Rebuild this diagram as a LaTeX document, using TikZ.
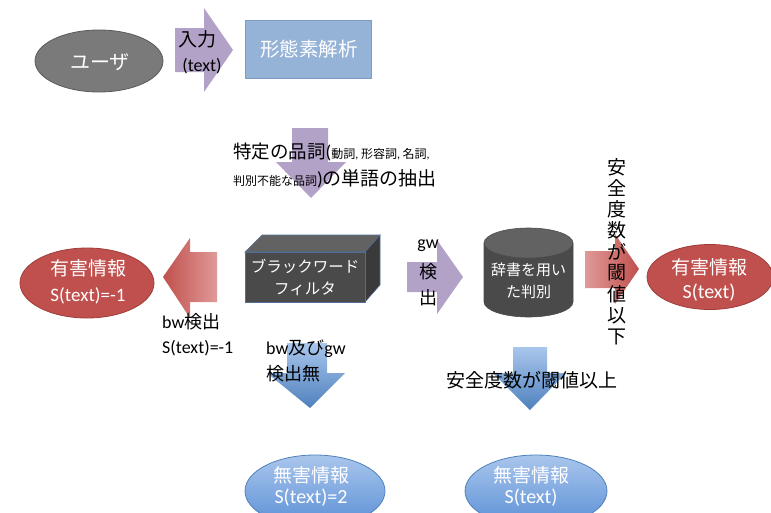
\documentclass[tikz,border=0pt]{standalone}
\usepackage{fontspec}
\setmainfont{Noto Sans CJK JP}
\newfontfamily\lat{Carlito}
\usetikzlibrary{shapes.geometric}
\begin{document}
\definecolor{upurple}{HTML}{B3A2C7}
\definecolor{ugray}{HTML}{7A7A7A}
\definecolor{ugrayd}{HTML}{5A5A5A}
\definecolor{ulblue}{HTML}{95B3D7}
\definecolor{ulblued}{HTML}{7C9CC6}
\definecolor{udark}{HTML}{4A4A4A}
\definecolor{udarktop}{HTML}{626262}
\definecolor{udarkside}{HTML}{3A3A3A}
\definecolor{uedge}{HTML}{4F6E9A}
\definecolor{ured}{HTML}{C0504D}
\definecolor{uredd}{HTML}{9E3D3A}
\definecolor{upink}{HTML}{E09A98}
\definecolor{ublue}{HTML}{5B8FD6}
\definecolor{ubluel}{HTML}{A9C6EC}
\definecolor{ubluee}{HTML}{4F81BD}
\begin{tikzpicture}[x=1pt,y=-1pt,
  big/.style={font=\fontsize{19}{21}\selectfont},
  wtext/.style={text=white},
  purparrow/.style={fill=upurple,draw=none},
  redellipse/.style={ellipse,draw=uredd,fill=ured,line width=0.8pt},
  blueellipse/.style={ellipse,draw=ubluee,top color=ubluel,bottom color=ublue,line width=0.8pt},
]
\useasboundingbox (0,0) rectangle (771,512);
% user ellipse
\draw[draw=ugrayd,fill=ugray,line width=0.8pt] (99,61) ellipse [x radius=64, y radius=31];
\node[font=\fontsize{20}{22}\selectfont,wtext] (user) at (100,62) {ユーザ};
% input arrow
\fill[purparrow] (175,28) -- (204,28) -- (204,8) -- (233,50) -- (204,92) -- (204,72) -- (175,72) -- cycle;
\node[big] (nyu) at (197,39) {入力};
\node[font=\lat\fontsize{18}{20}\selectfont] (nyut) at (202,66) {(text)};
% morphological analysis box
\draw[draw=ulblued,fill=ulblue,line width=0.8pt] (245,20) rectangle (371,78);
\node[font=\fontsize{19.5}{21}\selectfont,wtext] (morph) at (309,49) {形態素解析};
% down purple arrow
\fill[purparrow] (292,128) -- (328,128) -- (328,162) -- (346,162) -- (311,198) -- (276,162) -- (292,162) -- cycle;
\node[anchor=west,inner sep=0pt] (ext1) at (233,152) {\fontsize{18.5}{20}\selectfont 特定の品詞{\lat (}\fontsize{12}{13}\selectfont 動詞{\lat , }形容詞{\lat , }名詞{\lat ,}};
\node[anchor=west,inner sep=0pt] (ext2) at (233,179) {\fontsize{12}{13}\selectfont 判別不能な品詞\fontsize{19}{20}\selectfont {\lat )}の単語の抽出};
% black word filter box
\draw[draw=uedge,fill=udarktop,line width=0.6pt] (245,252) -- (262,235) -- (380,235) -- (365,252) -- cycle;
\draw[draw=uedge,fill=udarkside,line width=0.6pt] (365,252) -- (380,235) -- (380,285) -- (365,302) -- cycle;
\draw[draw=uedge,fill=udark,line width=0.6pt] (245,252) rectangle (365,302);
\node[font=\fontsize{15.5}{17}\selectfont,wtext] (bwf1) at (305,266) {ブラックワード};
\node[font=\fontsize{15.5}{17}\selectfont,wtext] (bwf2) at (305,289) {フィルタ};
% left red arrow
\shade[left color=ured,right color=upink] (163,277) -- (190,238) -- (190,252) -- (217,252) -- (217,302) -- (190,302) -- (190,318) -- cycle;
\node[redellipse,minimum width=134pt,minimum height=70pt] (harm1) at (87,283) {};
\node[big,wtext] (harm1a) at (88,268) {有害情報};
\node[font=\lat\fontsize{19}{21}\selectfont,wtext] (harm1b) at (88,296) {S(text)=-1};
\node[font=\fontsize{18}{20}\selectfont,anchor=west,inner sep=0pt] (bw1) at (162,322) {{\lat bw}検出};
\node[font=\lat\fontsize{18}{20}\selectfont,anchor=west,inner sep=0pt] (bw2) at (162,348) {S(text)=-1};
% gw arrow
\fill[purparrow] (407,262) -- (437,262) -- (437,240) -- (463,277) -- (437,314) -- (437,292) -- (407,292) -- cycle;
\node[font=\lat\fontsize{18}{20}\selectfont] (gw1) at (428,246) {gw};
\node[font=\fontsize{18}{20}\selectfont] (gw2) at (428,272) {検};
\node[font=\fontsize{18}{20}\selectfont] (gw3) at (428,298) {出};
% cylinder
\fill[udark] (484,243) -- (484,302) arc[start angle=180,end angle=0,x radius=44.5,y radius=15] -- (573,243) -- cycle;
\draw[draw=black!70,line width=0.6pt] (484,243) -- (484,302) arc[start angle=180,end angle=0,x radius=44.5,y radius=15] -- (573,243);
\draw[draw=black!70,fill=udarktop,line width=0.6pt] (528.5,243) ellipse [x radius=44.5, y radius=15];
\node[font=\fontsize{15}{17}\selectfont,wtext] (dic1) at (528.5,270) {辞書を用い};
\node[font=\fontsize{15}{17}\selectfont,wtext] (dic2) at (528.5,292) {た判別};
% right red arrow
\shade[left color=upink,right color=ured] (585,251) -- (615,251) -- (615,234) -- (639,269) -- (615,304) -- (615,288) -- (585,288) -- cycle;
\foreach \c [count=\i] in {安,全,度,数,が,閾,値,以,下}{
  \node[font=\fontsize{19}{20}\selectfont,inner sep=0pt] (v\i) at (617,{167+21.2*(\i-1)}) {\c};
}
\node[redellipse,minimum width=126pt,minimum height=65pt] (harm2) at (710,277) {};
\node[big,wtext] (harm2a) at (709,267) {有害情報};
\node[font=\lat\fontsize{20}{22}\selectfont,wtext] (harm2b) at (709,293) {S(text)};
% blue arrows
\shade[top color=ubluel,bottom color=ubluee] (287,343) -- (327,343) -- (327,373) -- (345,373) -- (310,408) -- (267,373) -- (287,373) -- cycle;
\node[font=\fontsize{18}{20}\selectfont,anchor=west,inner sep=0pt] (nd1) at (266,349) {{\lat bw}及び{\lat gw}};
\node[font=\fontsize{18}{20}\selectfont,anchor=west,inner sep=0pt] (nd2) at (266,374) {検出無};
\shade[top color=ubluel,bottom color=ubluee] (513,347) -- (547,347) -- (547,373) -- (566,373) -- (530,410) -- (493,373) -- (513,373) -- cycle;
\node[font=\fontsize{19}{20}\selectfont] (safe) at (532,380) {安全度数が閾値以上};
% bottom ellipses
\node[blueellipse,minimum width=140pt,minimum height=72pt] (safe1) at (315,491) {};
\node[big,wtext] (safe1a) at (311,475) {無害情報};
\node[font=\lat\fontsize{20}{22}\selectfont,wtext] (safe1b) at (311,498) {S(text)=2};
\node[blueellipse,minimum width=142pt,minimum height=72pt] (safe2) at (536,491) {};
\node[big,wtext] (safe2a) at (531,475) {無害情報};
\node[font=\lat\fontsize{20}{22}\selectfont,wtext] (safe2b) at (531,498) {S(text)};
\end{tikzpicture}
\end{document}
